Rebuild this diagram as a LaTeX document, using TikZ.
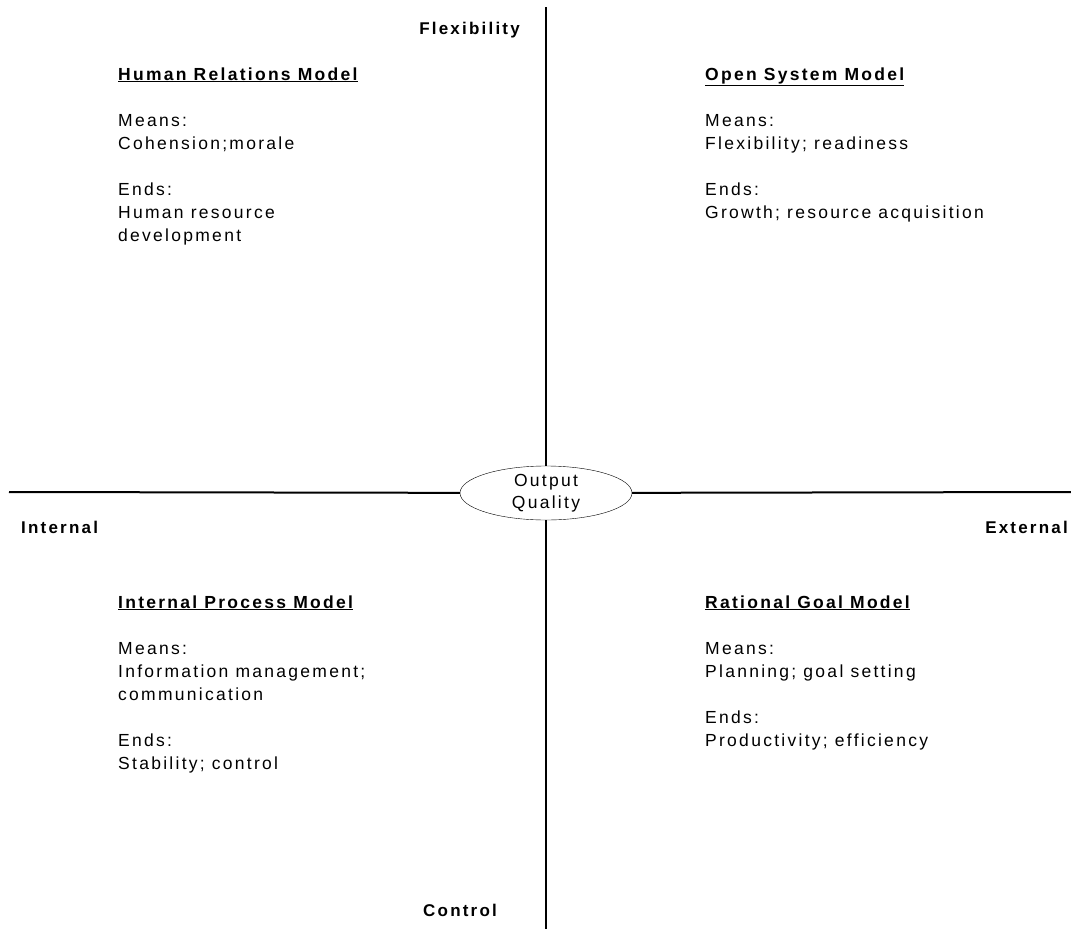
\documentclass[tikz,border=0pt]{standalone}
\usepackage{fontspec}
\setmainfont[LetterSpace=13]{Liberation Sans}
\usetikzlibrary{shapes}

\begin{document}
\begin{tikzpicture}
[x=1pt,y=-1pt,%
  axisLine/.style={-,line width=2pt},%
  axisLabel/.style={font=\fontsize{17}{23}\selectfont\bfseries,inner sep=0pt},%
  modelText/.style={font=\fontsize{17.5}{23}\selectfont,align=left,anchor=base west,inner sep=0pt},%
  centreDecorate/.style={shape=ellipse,draw,thin,fill=white,minimum width=172pt,minimum height=54pt,inner sep=0pt,align=center,font=\fontsize{17.5}{22}\selectfont}]
\useasboundingbox (0,0) rectangle (1071,929);
%% centre and axes
\node[centreDecorate] (quality) at (546,493) {Output\\Quality};
\coordinate (top) at (546,7);
\coordinate (bottom) at (546,929);
\coordinate (left) at (9,492);
\coordinate (right) at (1071,492);
\path
(top) edge[axisLine] (quality)
(bottom) edge[axisLine] (quality)
(left) edge[axisLine] (quality)
(right) edge[axisLine] (quality);
%% axis labels
\foreach \labelname/\x/\y/\where/\labeltext in {
  flex/520/34/base east/Flexibility, ctrl/423/916/base west/Control,
  intl/21/533/base west/Internal, extl/1068/533/base east/External}
{
  \node[axisLabel,anchor=\where] (\labelname) at (\x,\y) {\labeltext};
}
%% the four models (placed by the baseline of their last line)
\node[modelText] (humanRel) at (118,241) {\textbf{\underline{Human Relations Model}}\\[23pt]
  Means:\\Cohension;morale\\[23pt]Ends:\\Human resource\\development};
\node[modelText] (openSys) at (705,218) {\textbf{\underline{Open System Model}}\\[23pt]
  Means:\\Flexibility; readiness\\[23pt]Ends:\\Growth; resource acquisition};
\node[modelText] (intProc) at (118,769) {\textbf{\underline{Internal Process Model}}\\[23pt]
  Means:\\Information management;\\communication\\[23pt]Ends:\\Stability; control};
\node[modelText] (ratGoal) at (705,746) {\textbf{\underline{Rational Goal Model}}\\[23pt]
  Means:\\Planning; goal setting\\[23pt]Ends:\\Productivity; efficiency};
\end{tikzpicture}
\end{document}
